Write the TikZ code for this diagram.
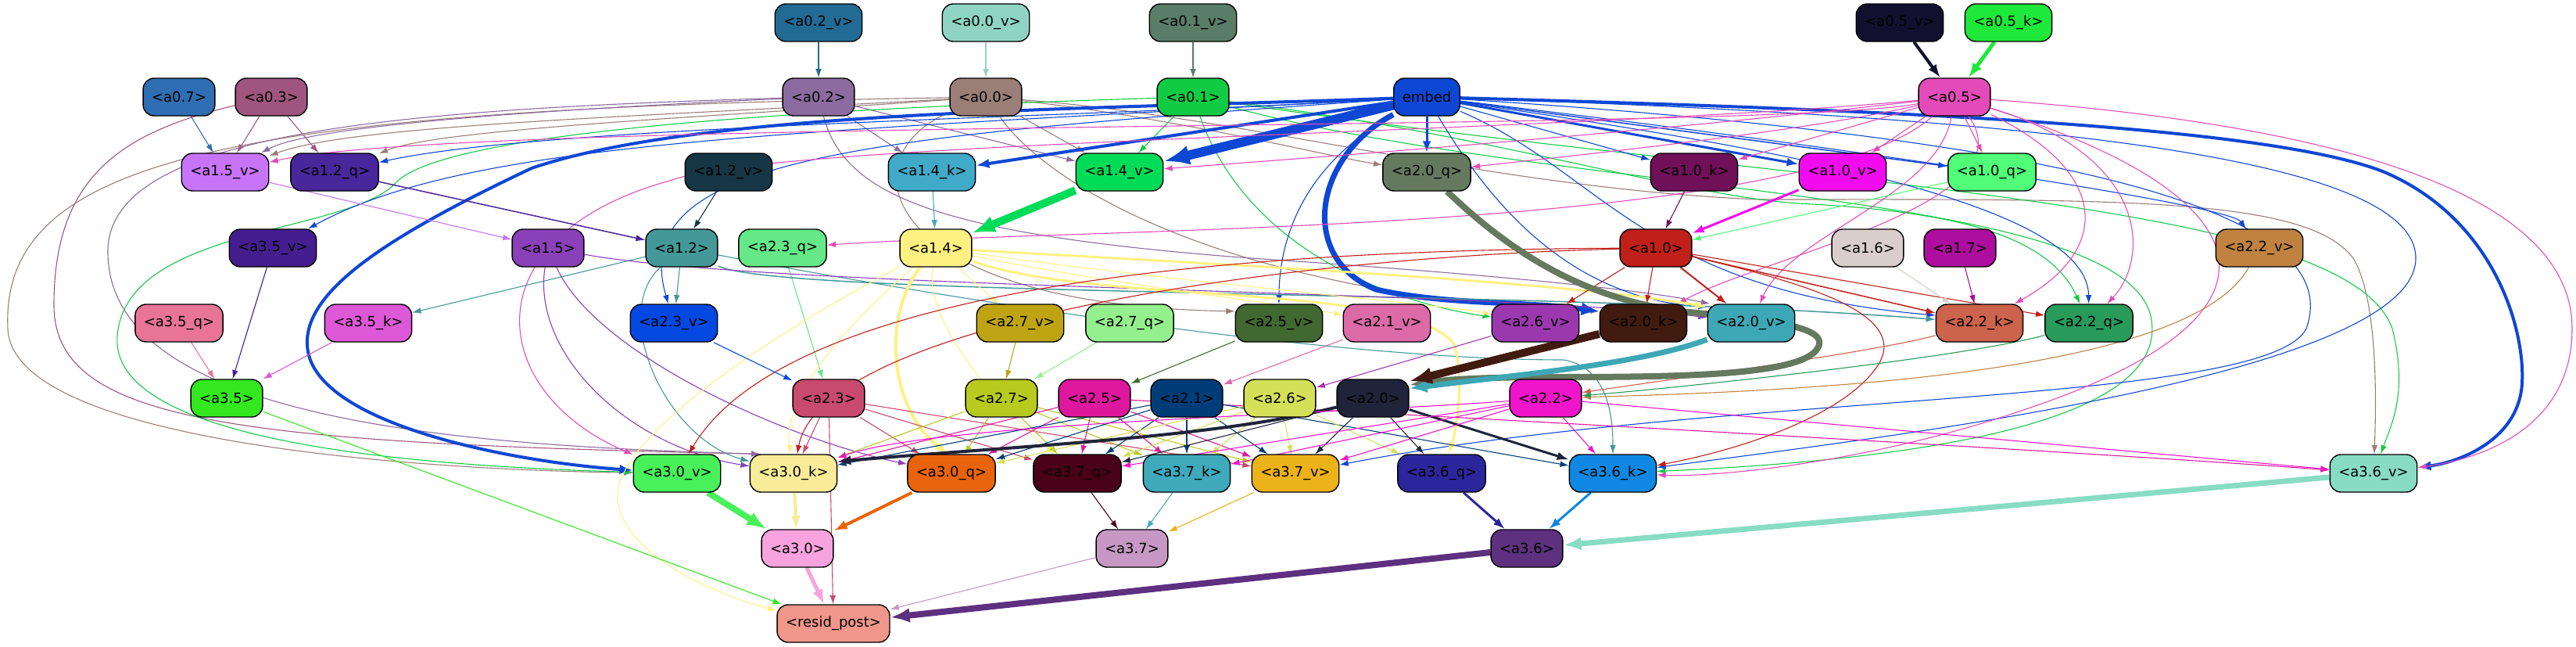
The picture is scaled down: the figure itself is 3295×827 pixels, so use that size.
\documentclass[tikz,border=0pt]{standalone}
\usepackage{fontspec}
\setmainfont{DejaVu Sans}
\usetikzlibrary{arrows.meta, positioning}
\pgfdeclarelayer{edges}
\pgfsetlayers{edges,main}

\definecolor{ca02v}{HTML}{226B94}
\definecolor{ca00v}{HTML}{8FD4C2}
\definecolor{ca01v}{HTML}{5A7D68}
\definecolor{ca05v}{HTML}{12102E}
\definecolor{ca05k}{HTML}{1EE83A}
\definecolor{ca07}{HTML}{2F6EB2}
\definecolor{ca03}{HTML}{9F557E}
\definecolor{ca02}{HTML}{8C6BA0}
\definecolor{ca00}{HTML}{9A7E78}
\definecolor{ca01}{HTML}{12CB45}
\definecolor{cembed}{HTML}{0E47D4}
\definecolor{ca05}{HTML}{E34CB8}
\definecolor{ca15v}{HTML}{C874F8}
\definecolor{ca12q}{HTML}{48269B}
\definecolor{ca12v}{HTML}{163646}
\definecolor{ca14k}{HTML}{40AAC8}
\definecolor{ca14v}{HTML}{00DC57}
\definecolor{ca20q}{HTML}{65795F}
\definecolor{ca10k}{HTML}{701058}
\definecolor{ca10v}{HTML}{F30BF0}
\definecolor{ca10q}{HTML}{50FC78}
\definecolor{ca35v}{HTML}{441E8E}
\definecolor{ca15}{HTML}{8A40B8}
\definecolor{ca12}{HTML}{449898}
\definecolor{ca23q}{HTML}{64E888}
\definecolor{ca14}{HTML}{FFF082}
\definecolor{ca10}{HTML}{C11F1A}
\definecolor{ca16}{HTML}{DACECC}
\definecolor{ca17}{HTML}{AD0C9E}
\definecolor{ca22v}{HTML}{C08240}
\definecolor{ca35q}{HTML}{E87498}
\definecolor{ca35k}{HTML}{DC58D6}
\definecolor{ca23v}{HTML}{0348E1}
\definecolor{ca27v}{HTML}{BEA412}
\definecolor{ca27q}{HTML}{94F08C}
\definecolor{ca25v}{HTML}{406830}
\definecolor{ca21v}{HTML}{DC6AA7}
\definecolor{ca26v}{HTML}{9C38AE}
\definecolor{ca20k}{HTML}{421B10}
\definecolor{ca20v}{HTML}{3EA7B5}
\definecolor{ca22k}{HTML}{CC634C}
\definecolor{ca22q}{HTML}{289A5A}
\definecolor{ca35}{HTML}{34E820}
\definecolor{ca23}{HTML}{C84A6E}
\definecolor{ca27}{HTML}{B8CA1E}
\definecolor{ca25}{HTML}{DF179E}
\definecolor{ca21}{HTML}{003D78}
\definecolor{ca26}{HTML}{D4E058}
\definecolor{ca20}{HTML}{20243A}
\definecolor{ca22}{HTML}{F014CA}
\definecolor{ca30v}{HTML}{48F05A}
\definecolor{ca30k}{HTML}{F8EC98}
\definecolor{ca30q}{HTML}{E8640A}
\definecolor{ca37q}{HTML}{4A0018}
\definecolor{ca37k}{HTML}{3EAABB}
\definecolor{ca37v}{HTML}{ECB21A}
\definecolor{ca36q}{HTML}{2C269C}
\definecolor{ca36k}{HTML}{0E88E2}
\definecolor{ca36v}{HTML}{88DCC4}
\definecolor{ca30}{HTML}{F8A2DE}
\definecolor{ca37}{HTML}{C798C4}
\definecolor{ca36}{HTML}{5E3080}
\definecolor{cresid}{HTML}{F0968A}

\begin{document}
\begin{tikzpicture}[x=1pt, y=-1pt,
    box/.style={rectangle, draw=black, line width=1.4pt, rounded corners=14pt, minimum height=48pt, inner xsep=11pt, inner ysep=0pt, text=black, font=\fontsize{18}{22}\selectfont},
    edge/.style={line width=1.1pt, -{Latex[length=9pt 2, width=6pt 1.6]}}
]
\useasboundingbox (0,0) rectangle (3295,827);

% row 0
\node[box, fill=ca02v] (a02v) at (1047,29) {<a0.2\_v>};
\node[box, fill=ca00v] (a00v) at (1261,29) {<a0.0\_v>};
\node[box, fill=ca01v] (a01v) at (1526,29) {<a0.1\_v>};
\node[box, fill=ca05v] (a05v) at (2430,29) {<a0.5\_v>};
\node[box, fill=ca05k] (a05k) at (2569,29) {<a0.5\_k>};
% row 1
\node[box, fill=ca07] (a07) at (229,124) {<a0.7>};
\node[box, fill=ca03] (a03) at (347,124) {<a0.3>};
\node[box, fill=ca02] (a02) at (1047,124) {<a0.2>};
\node[box, fill=ca00] (a00) at (1261,124) {<a0.0>};
\node[box, fill=ca01] (a01) at (1526,124) {<a0.1>};
\node[box, fill=cembed] (embed) at (1825,124) {embed};
\node[box, fill=ca05] (a05) at (2500,124) {<a0.5>};
% row 2
\node[box, fill=ca15v] (a15v) at (288,220) {<a1.5\_v>};
\node[box, fill=ca12q] (a12q) at (428,220) {<a1.2\_q>};
\node[box, fill=ca12v] (a12v) at (932,220) {<a1.2\_v>};
\node[box, fill=ca14k] (a14k) at (1192,220) {<a1.4\_k>};
\node[box, fill=ca14v] (a14v) at (1432,220) {<a1.4\_v>};
\node[box, fill=ca20q] (a20q) at (1825,220) {<a2.0\_q>};
\node[box, fill=ca10k] (a10k) at (2167,220) {<a1.0\_k>};
\node[box, fill=ca10v] (a10v) at (2357,220) {<a1.0\_v>};
\node[box, fill=ca10q] (a10q) at (2548,220) {<a1.0\_q>};
% row 3
\node[box, fill=ca35v] (a35v) at (349,317) {<a3.5\_v>};
\node[box, fill=ca15] (a15) at (701,317) {<a1.5>};
\node[box, fill=ca12] (a12) at (872,317) {<a1.2>};
\node[box, fill=ca23q] (a23q) at (1001,317) {<a2.3\_q>};
\node[box, fill=ca14] (a14) at (1197,317) {<a1.4>};
\node[box, fill=ca10] (a10) at (2118,317) {<a1.0>};
\node[box, fill=ca16] (a16) at (2389,317) {<a1.6>};
\node[box, fill=ca17] (a17) at (2507,317) {<a1.7>};
\node[box, fill=ca22v] (a22v) at (2890,317) {<a2.2\_v>};
% row 4
\node[box, fill=ca35q] (a35q) at (229,413) {<a3.5\_q>};
\node[box, fill=ca35k] (a35k) at (471,413) {<a3.5\_k>};
\node[box, fill=ca23v] (a23v) at (862,413) {<a2.3\_v>};
\node[box, fill=ca27v] (a27v) at (1305,413) {<a2.7\_v>};
\node[box, fill=ca27q] (a27q) at (1445,413) {<a2.7\_q>};
\node[box, fill=ca25v] (a25v) at (1636,413) {<a2.5\_v>};
\node[box, fill=ca21v] (a21v) at (1774,413) {<a2.1\_v>};
\node[box, fill=ca26v] (a26v) at (1964,413) {<a2.6\_v>};
\node[box, fill=ca20k] (a20k) at (2102,413) {<a2.0\_k>};
\node[box, fill=ca20v] (a20v) at (2240,413) {<a2.0\_v>};
\node[box, fill=ca22k] (a22k) at (2532,413) {<a2.2\_k>};
\node[box, fill=ca22q] (a22q) at (2672,413) {<a2.2\_q>};
% row 5
\node[box, fill=ca35] (a35) at (290,509) {<a3.5>};
\node[box, fill=ca23] (a23) at (1060,509) {<a2.3>};
\node[box, fill=ca27] (a27) at (1281,509) {<a2.7>};
\node[box, fill=ca25] (a25) at (1400,509) {<a2.5>};
\node[box, fill=ca21] (a21) at (1518,509) {<a2.1>};
\node[box, fill=ca26] (a26) at (1637,509) {<a2.6>};
\node[box, fill=ca20] (a20) at (1756,509) {<a2.0>};
\node[box, fill=ca22] (a22) at (1977,509) {<a2.2>};
% row 6
\node[box, fill=ca30v] (a30v) at (866,605) {<a3.0\_v>};
\node[box, fill=ca30k] (a30k) at (1015,605) {<a3.0\_k>};
\node[box, fill=ca30q] (a30q) at (1217,605) {<a3.0\_q>};
\node[box, fill=ca37q] (a37q) at (1378,605) {<a3.7\_q>};
\node[box, fill=ca37k] (a37k) at (1518,605) {<a3.7\_k>};
\node[box, fill=ca37v] (a37v) at (1657,605) {<a3.7\_v>};
\node[box, fill=ca36q] (a36q) at (1844,605) {<a3.6\_q>};
\node[box, fill=ca36k] (a36k) at (2063,605) {<a3.6\_k>};
\node[box, fill=ca36v] (a36v) at (3036,605) {<a3.6\_v>};
% row 7
\node[box, fill=ca30] (a30) at (1020,701) {<a3.0>};
\node[box, fill=ca37] (a37) at (1448,701) {<a3.7>};
\node[box, fill=ca36] (a36) at (1953,701) {<a3.6>};
% row 8
\node[box, fill=cresid] (resid) at (1066,797) {<resid\_post>};

\begin{pgfonlayer}{edges}
% inputs
\draw[edge, ca02v] (a02v) -- (a02);
\draw[edge, ca00v] (a00v) -- (a00);
\draw[edge, ca01v] (a01v) -- (a01);
\draw[edge, ca05v, line width=4pt] (a05v) -- (a05);
\draw[edge, ca05k, line width=5pt] (a05k) -- (a05);
\draw[edge, ca07] (a07) -- (a15v);
\draw[edge, ca03] (a03) -- (a15v);
\draw[edge, ca03] (a03) -- (a12q);
\draw[edge, ca03] (a03) .. controls (150,170) and (69,230) .. (69,390) .. controls (69,540) and (300,566) .. (a30k.150);
% a0.0
\draw[edge, ca00] (a00) .. controls (800,150) and (450,160) .. (a15v);
\draw[edge, ca00] (a00) .. controls (900,150) and (560,165) .. (a12q);
\draw[edge, ca00] (a00) -- (a14v);
\draw[edge, ca00] (a00) .. controls (1500,150) and (1700,200) .. (a20q);
\draw[edge, ca00] (a00) .. controls (1080,200) and (1120,390) .. (a25v.165);
\draw[edge, ca00] (a00) .. controls (1350,250) and (1600,380) .. (a20k.165);
\draw[edge, ca00] (a00) .. controls (1600,150) and (1900,240) .. (2250,255) .. controls (2700,255) and (2950,250) .. (3010,330) .. controls (3040,380) and (3040,500) .. (a36v);
\draw[edge, ca00] (a00) .. controls (300,140) and (0,200) .. (10,420) .. controls (15,560) and (500,600) .. (a30v);
% a0.2
\draw[edge, ca02] (a02) -- (a14k);
\draw[edge, ca02] (a02) -- (a14v);
\draw[edge, ca02] (a02) .. controls (700,140) and (400,160) .. (a15v);
\draw[edge, ca02] (a02) .. controls (1080,250) and (1200,300) .. (1600,330) .. controls (1900,350) and (2100,370) .. (a20v.155);
\draw[edge, ca02] (a02) .. controls (500,140) and (140,170) .. (138,320) .. controls (135,540) and (600,570) .. (a30k.150);
% a0.1
\draw[edge, ca01] (a01) -- (a14v);
\draw[edge, ca01] (a01) .. controls (1000,140) and (560,170) .. (505,235) .. controls (440,300) and (160,290) .. (150,430) .. controls (140,560) and (500,595) .. (a30v);
\draw[edge, ca01] (a01) .. controls (1900,170) and (2150,250) .. (2300,260) .. controls (2500,270) and (2620,300) .. (a22q);
\draw[edge, ca01] (a01) .. controls (2000,250) and (2700,240) .. (2750,400) .. controls (2790,550) and (2400,590) .. (a36k);
\draw[edge, ca01] (a01) .. controls (2300,240) and (3000,250) .. (3060,420) .. controls (3080,500) and (3060,540) .. (a36v);
\draw[edge, ca01] (a01) .. controls (1600,330) and (1800,390) .. (a26v);
% embed
\draw[edge, cembed, line width=12pt] (embed) -- (a14v);
\draw[edge, cembed, line width=4pt] (embed) -- (a14k);
\draw[edge, cembed, line width=3pt] (embed) -- (a20q);
\draw[edge, cembed, line width=3pt] (embed) -- (a10v);
\draw[edge, cembed] (embed) -- (a10k);
\draw[edge, cembed, line width=1.5pt] (embed) -- (a10q);
\draw[edge, cembed] (embed) .. controls (1400,150) and (700,160) .. (a12q);
\draw[edge, cembed] (embed) .. controls (1000,170) and (600,180) .. (a35v);
\draw[edge, cembed] (embed) .. controls (1100,175) and (800,200) .. (a23v);
\draw[edge, cembed] (embed) .. controls (1650,220) and (1636,330) .. (a25v);
\draw[edge, cembed, line width=4pt] (embed) .. controls (1400,140) and (900,140) .. (680,215) .. controls (500,300) and (390,370) .. (393,440) .. controls (395,540) and (650,590) .. (a30v);
\draw[edge, cembed, line width=7pt] (embed) .. controls (1680,200) and (1660,330) .. (1760,370) .. controls (1850,390) and (1950,385) .. (a20k.165);
\draw[edge, cembed, line width=4pt] (embed) .. controls (2400,140) and (2900,160) .. (3050,220) .. controls (3190,280) and (3230,420) .. (3226,490) .. controls (3222,560) and (3150,590) .. (a36v);
\draw[edge, cembed] (embed) .. controls (2300,180) and (2850,260) .. (a22v);
\draw[edge, cembed] (embed) .. controls (2200,180) and (2670,250) .. (a22q);
\draw[edge, cembed] (embed) .. controls (2050,220) and (2100,370) .. (a22k.170);
\draw[edge, cembed] (embed) .. controls (1900,250) and (2000,380) .. (a20v.160);
\draw[edge, cembed] (embed) .. controls (2700,180) and (3000,280) .. (2950,420) .. controls (2900,520) and (2200,500) .. (a37v);
\draw[edge, cembed] (embed) .. controls (2600,150) and (3090,200) .. (3090,330) .. controls (3090,480) and (2400,560) .. (a36k);
% a0.5
\draw[edge, ca05] (a05) -- (a10k);
\draw[edge, ca05] (a05) -- (a10v);
\draw[edge, ca05] (a05) -- (a10q);
\draw[edge, ca05] (a05) .. controls (2100,170) and (1700,200) .. (a14v);
\draw[edge, ca05] (a05) .. controls (2300,170) and (2000,200) .. (a20q);
\draw[edge, ca05] (a05) .. controls (2300,300) and (1400,290) .. (a23q);
\draw[edge, ca05] (a05) .. controls (2250,170) and (600,150) .. (a15v);
\draw[edge, ca05] (a05) .. controls (2600,260) and (2250,330) .. (a20k);
\draw[edge, ca05] (a05) .. controls (2480,250) and (2290,300) .. (a20v);
\draw[edge, ca05] (a05) .. controls (2700,220) and (2700,320) .. (a22k);
\draw[edge, ca05] (a05) .. controls (2750,200) and (2750,330) .. (a22q);
\draw[edge, ca05] (a05) .. controls (3000,160) and (3290,250) .. (3290,420) .. controls (3290,560) and (3150,590) .. (a36v);
\draw[edge, ca05] (a05) .. controls (2900,250) and (2950,400) .. (2600,520) .. controls (2400,590) and (2200,610) .. (a36k);
\draw[edge, ca05] (a05) .. controls (2000,170) and (1000,180) .. (860,230) .. controls (600,300) and (620,500) .. (a30v);
% level 1
\draw[edge, ca12v] (a12v) -- (a12);
\draw[edge, ca12q, line width=1.5pt] (a12q) -- (a12);
\draw[edge, ca15v] (a15v) -- (a15);
\draw[edge, ca14k] (a14k) -- (a14);
\draw[edge, ca14v, line width=10pt] (a14v) -- (a14);
\draw[edge, ca10k] (a10k) -- (a10);
\draw[edge, ca10v, line width=3pt] (a10v) -- (a10);
\draw[edge, ca10q] (a10q) -- (a10);
\draw[edge, ca35v] (a35v) -- (a35);
\draw[edge, ca23q] (a23q) -- (a23);
\draw[edge, ca12] (a12) -- (a35k);
\draw[edge, ca12] (a12) -- (a23v);
\draw[edge, ca12, line width=1.5pt] (a12) .. controls (1000,380) and (2000,370) .. (a22k);
\draw[edge, ca12] (a12) .. controls (780,400) and (850,560) .. (a30k);
\draw[edge, ca12] (a12) .. controls (1200,380) and (1700,460) .. (2000,460) .. controls (2060,470) and (2063,540) .. (a36k);
\draw[edge, ca15] (a15) .. controls (680,450) and (800,570) .. (a30k);
\draw[edge, ca15] (a15) .. controls (760,450) and (1000,560) .. (a30q);
\draw[edge, ca15] (a15) .. controls (1000,370) and (1900,370) .. (a20v);
\draw[edge, ca14, line width=4pt] (a14) .. controls (1130,400) and (1135,520) .. (a30q.100);
\draw[edge, ca14, line width=3pt] (a14) .. controls (1400,390) and (1800,360) .. (1860,440) .. controls (1875,490) and (1860,560) .. (a36q);
\draw[edge, ca14, line width=3pt] (a14) .. controls (1600,340) and (2000,360) .. (a20v.160);
\draw[edge, ca14] (a14) -- (a27v);
\draw[edge, ca14] (a14) .. controls (1400,360) and (1650,390) .. (a21v);
\draw[edge, ca14] (a14) .. controls (1500,360) and (1850,390) .. (a26v);
\draw[edge, ca14] (a14) .. controls (1180,420) and (1300,540) .. (a37q);
\draw[edge, ca14] (a14) .. controls (1100,400) and (1000,500) .. (a30k);
\draw[edge, ca14] (a14) .. controls (1000,420) and (780,560) .. (790,640) .. controls (800,720) and (950,770) .. (resid);
\draw[edge, ca10] (a10) -- (a26v);
\draw[edge, ca10] (a10) -- (a20k);
\draw[edge, ca10, line width=2pt] (a10) -- (a20v);
\draw[edge, ca10, line width=1.5pt] (a10) -- (a22k);
\draw[edge, ca10] (a10) -- (a22q);
\draw[edge, ca10] (a10) .. controls (1500,320) and (1000,380) .. (a30v);
\draw[edge, ca10] (a10) .. controls (1600,330) and (1050,420) .. (a30k);
\draw[edge, ca10] (a10) .. controls (2300,360) and (2450,400) .. (2400,470) .. controls (2350,540) and (2200,580) .. (a36k);
\draw[edge, ca16] (a16) -- (a22k);
\draw[edge, ca17] (a17) -- (a22k);
\draw[edge, ca22v] (a22v) .. controls (2800,480) and (2300,500) .. (a22);
% level 2 inputs
\draw[edge, ca35q] (a35q) -- (a35);
\draw[edge, ca35k] (a35k) -- (a35);
\draw[edge, ca23v] (a23v) -- (a23);
\draw[edge, ca27v] (a27v) -- (a27);
\draw[edge, ca27q] (a27q) -- (a27);
\draw[edge, ca25v] (a25v) -- (a25);
\draw[edge, ca21v] (a21v) -- (a21);
\draw[edge, ca26v] (a26v) -- (a26);
\draw[edge, ca22k] (a22k) .. controls (2400,450) and (2100,490) .. (a22);
\draw[edge, ca22q] (a22q) .. controls (2500,460) and (2100,500) .. (a22);
\draw[edge, ca20q, line width=8pt] (a20q) .. controls (1930,320) and (2020,380) .. (2150,398) .. controls (2280,410) and (2340,420) .. (2325,445) .. controls (2305,480) and (2150,482) .. (1990,482) .. controls (1900,482) and (1850,485) .. (a20.20);
\draw[edge, ca20v, line width=7pt] (a20v) .. controls (2100,465) and (1950,478) .. (a20.15);
\draw[edge, ca20k, line width=10pt] (a20k) -- (a20.25);
% level 2 outputs
\draw[edge, ca35] (a35) -- (resid);
\draw[edge, ca23] (a23) -- (a30k);
\draw[edge, ca23] (a23) -- (a30q);
\draw[edge, ca23] (a23) -- (a37q);
\draw[edge, ca23] (a23) -- (a37v);
\draw[edge, ca23] (a23) -- (resid);
\draw[edge, ca27] (a27) -- (a30k);
\draw[edge, ca27] (a27) -- (a30q);
\draw[edge, ca27] (a27) -- (a37q);
\draw[edge, ca27] (a27) -- (a37k);
\draw[edge, ca27] (a27) -- (a37v);
\draw[edge, ca25] (a25) -- (a30k);
\draw[edge, ca25] (a25) -- (a30q);
\draw[edge, ca25] (a25) -- (a37q);
\draw[edge, ca25] (a25) -- (a37k);
\draw[edge, ca25] (a25) -- (a37v);
\draw[edge, ca25] (a25) .. controls (2000,540) and (2700,580) .. (a36v);
\draw[edge, ca21] (a21) -- (a30k);
\draw[edge, ca21] (a21) -- (a30q);
\draw[edge, ca21] (a21) -- (a37q);
\draw[edge, ca21] (a21) -- (a37k);
\draw[edge, ca21] (a21) -- (a37v);
\draw[edge, ca21] (a21) -- (a36k);
\draw[edge, ca26] (a26) -- (a30q);
\draw[edge, ca26] (a26) -- (a37q);
\draw[edge, ca26] (a26) -- (a37k);
\draw[edge, ca26] (a26) -- (a37v);
\draw[edge, ca26] (a26) -- (a36q);
\draw[edge, ca20, line width=4pt] (a20) .. controls (1550,560) and (1300,570) .. (a30k.15);
\draw[edge, ca20] (a20) -- (a37q);
\draw[edge, ca20] (a20) -- (a37v);
\draw[edge, ca20] (a20) -- (a36q);
\draw[edge, ca20, line width=3pt] (a20) -- (a36k);
\draw[edge, ca22] (a22) .. controls (1700,530) and (1200,540) .. (a30k);
\draw[edge, ca22] (a22) -- (a37q);
\draw[edge, ca22] (a22) -- (a37k);
\draw[edge, ca22] (a22) -- (a37v);
\draw[edge, ca22] (a22) -- (a36k);
\draw[edge, ca22] (a22) -- (a36v);
% level 3
\draw[edge, ca30v, line width=8pt] (a30v) -- (a30);
\draw[edge, ca30k, line width=4pt] (a30k) -- (a30);
\draw[edge, ca30q, line width=4pt] (a30q) -- (a30);
\draw[edge, ca37q] (a37q) -- (a37);
\draw[edge, ca37k] (a37k) -- (a37);
\draw[edge, ca37v] (a37v) -- (a37);
\draw[edge, ca36q, line width=3pt] (a36q) -- (a36);
\draw[edge, ca36k, line width=3pt] (a36k) -- (a36);
\draw[edge, ca36v, line width=7pt] (a36v) -- (a36);
\draw[edge, ca30, line width=5pt] (a30) -- (resid);
\draw[edge, ca37] (a37) -- (resid);
\draw[edge, ca36, line width=8pt] (a36) -- (resid);
\end{pgfonlayer}
\end{tikzpicture}
\end{document}
